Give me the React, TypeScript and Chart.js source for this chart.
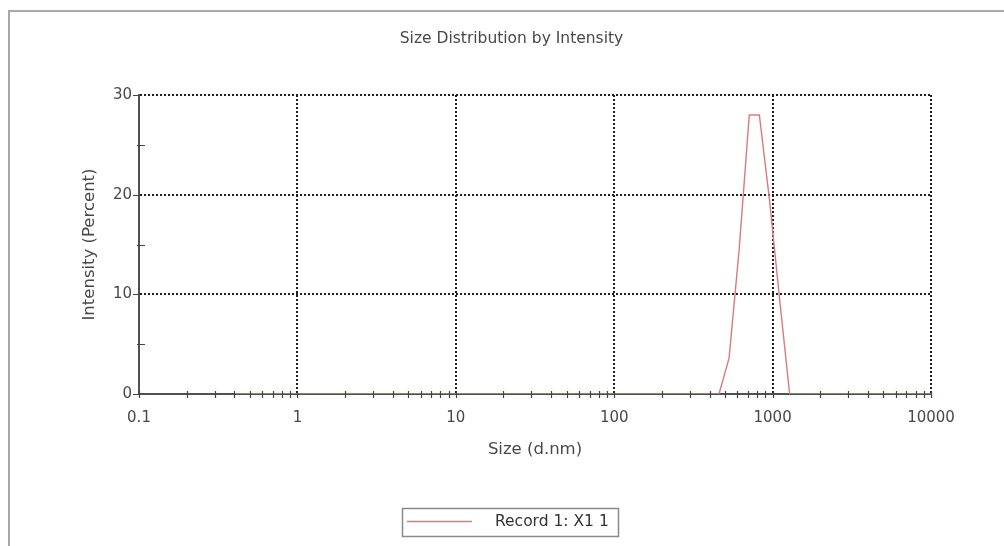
import React, { useEffect, useRef } from 'react';
import { Chart, registerables } from 'chart.js';

Chart.register(...registerables);

// ---- Data ----
const chartTitle = 'Size Distribution by Intensity';
const xAxisTitle = 'Size (d.nm)';
const yAxisTitle = 'Intensity (Percent)';
const seriesLabel = 'Record 1: X1 1';

// Size bins (d.nm)
const sizes = [
  0.4, 0.4632, 0.5365, 0.6213, 0.7195, 0.8332, 0.9649, 1.117, 1.294, 1.499,
  1.736, 2.01, 2.328, 2.696, 3.122, 3.615, 4.187, 4.849, 5.615, 6.503,
  7.531, 8.721, 10.1, 11.7, 13.54, 15.69, 18.17, 21.04, 24.36, 28.21,
  32.67, 37.84, 43.82, 50.75, 58.77, 68.06, 78.82, 91.28, 105.7, 122.4,
  141.8, 164.2, 190.1, 220.2, 255.0, 295.3, 342.0, 396.1, 458.7, 531.2,
  615.1, 712.4, 825.0, 955.4, 1106, 1281, 1484, 1718, 1990, 2305,
  2669, 3091, 3580, 4145, 4801, 5560, 6439, 7456, 8635, 10000,
];

// Intensity (%)
const intensities = [
  0, 0, 0, 0, 0, 0, 0, 0, 0, 0,
  0, 0, 0, 0, 0, 0, 0, 0, 0, 0,
  0, 0, 0, 0, 0, 0, 0, 0, 0, 0,
  0, 0, 0, 0, 0, 0, 0, 0, 0, 0,
  0, 0, 0, 0, 0, 0, 0, 0, 0, 3.6,
  14.5, 28.0, 28.0, 19.5, 9.6, 0, 0, 0, 0, 0,
  0, 0, 0, 0, 0, 0, 0, 0, 0, 0,
];

const xMajorTicks = [0.1, 1, 10, 100, 1000, 10000];
const xMajorLabels = ['0.1', '1', '10', '100', '1000', '10000'];
const xMinorMultipliers = [2, 3, 4, 5, 6, 7, 8, 9];
const yTicks = [0, 5, 10, 15, 20, 25, 30];
const yLabelledTicks = [0, 10, 20, 30];

const FONT = "'DejaVu Sans', 'Liberation Sans', sans-serif";
const TEXT = '#484848';
const GRID = '#1e1e1e';
const AXIS = '#505050';
const LINE = '#dc7882';

const isXMajor = (v: number) => xMajorTicks.some((m) => Math.abs(m - v) / m < 1e-6);

const decorPlugin = {
  id: 'decor',
  beforeDraw(chart: any) {
    const ctx = chart.ctx;
    ctx.save();
    ctx.strokeStyle = '#a8a8a8';
    ctx.lineWidth = 2;
    ctx.beginPath();
    ctx.moveTo(1004, 11);
    ctx.lineTo(9, 11);
    ctx.lineTo(9, 546);
    ctx.stroke();
    ctx.restore();
  },
  afterDraw(chart: any) {
    const ctx = chart.ctx;
    const xs = chart.scales.x;
    const ys = chart.scales.y;
    const area = chart.chartArea;
    ctx.save();
    // tick marks
    ctx.strokeStyle = '#444';
    ctx.lineWidth = 1.2;
    ctx.beginPath();
    xs.ticks.forEach((t: any) => {
      const px = Math.round(xs.getPixelForValue(t.value)) + 0.5;
      ctx.moveTo(px, area.bottom - 3);
      ctx.lineTo(px, area.bottom + 4);
    });
    ys.ticks.forEach((t: any) => {
      const py = Math.round(ys.getPixelForValue(t.value)) + 0.5;
      if (yLabelledTicks.includes(t.value)) {
        ctx.moveTo(area.left - 6, py);
        ctx.lineTo(area.left, py);
      } else {
        ctx.moveTo(area.left - 2, py);
        ctx.lineTo(area.left + 6, py);
      }
    });
    ctx.stroke();

    // title
    ctx.fillStyle = TEXT;
    ctx.font = `15.5px ${FONT}`;
    ctx.textAlign = 'center';
    ctx.textBaseline = 'middle';
    ctx.fillText(chartTitle, 511.5, 39);

    // legend
    const ds = chart.data.datasets[0];
    ctx.strokeStyle = '#8a8a8a';
    ctx.lineWidth = 1.5;
    ctx.strokeRect(402.5, 508.5, 216, 28);
    ctx.strokeStyle = ds.borderColor;
    ctx.lineWidth = 1.3;
    ctx.beginPath();
    ctx.moveTo(407, 521.5);
    ctx.lineTo(472, 521.5);
    ctx.stroke();
    ctx.fillStyle = '#333';
    ctx.font = `15.5px ${FONT}`;
    ctx.textAlign = 'left';
    ctx.fillText(ds.label, 495, 522);
    ctx.restore();
  },
};

export default function App() {
  const canvasRef = useRef<HTMLCanvasElement | null>(null);

  useEffect(() => {
    if (!canvasRef.current) return;
    const chart = new Chart(canvasRef.current, {
      type: 'line',
      data: {
        datasets: [
          {
            label: seriesLabel,
            data: sizes.map((s, i) => ({ x: s, y: intensities[i] })),
            borderColor: LINE,
            backgroundColor: LINE,
            borderWidth: 1.4,
            pointRadius: 0,
            tension: 0,
            fill: false,
          },
        ],
      },
      options: {
        responsive: false,
        animation: false,
        devicePixelRatio: 1,
        layout: { padding: { top: 95, left: 0, right: 73, bottom: 0 } },
        plugins: {
          legend: { display: false },
          title: { display: false },
          tooltip: { enabled: false },
        },
        scales: {
          x: {
            type: 'logarithmic',
            position: 'bottom',
            min: 0.1,
            max: 10000,
            z: 1,
            afterBuildTicks: (scale: any) => {
              const ticks: any[] = [];
              for (let i = 0; i < xMajorTicks.length; i++) {
                const d = xMajorTicks[i];
                ticks.push({ value: d, major: true });
                if (i < xMajorTicks.length - 1) {
                  xMinorMultipliers.forEach((m) => ticks.push({ value: d * m, major: false }));
                }
              }
              scale.ticks = ticks;
            },
            afterFit: (scale: any) => {
              scale.height = 152;
            },
            ticks: {
              autoSkip: false,
              maxRotation: 0,
              minRotation: 0,
              padding: 15,
              color: TEXT,
              font: { family: FONT, size: 15 },
              callback: (value: any) => {
                const v = Number(value);
                const idx = xMajorTicks.findIndex((m) => Math.abs(m - v) / m < 1e-6);
                return idx >= 0 ? xMajorLabels[idx] : '';
              },
            },
            grid: {
              drawTicks: false,
              lineWidth: 2,
              color: (c: any) =>
                c.tick && isXMajor(c.tick.value) && c.tick.value > 0.11 ? GRID : 'rgba(0,0,0,0)',
            },
            border: { display: true, color: AXIS, width: 2, dash: [2, 2] },
            title: {
              display: true,
              text: xAxisTitle,
              color: TEXT,
              font: { family: FONT, size: 16.5 },
              padding: { top: 0, bottom: 86 },
            },
          },
          y: {
            type: 'linear',
            position: 'left',
            min: 0,
            max: 30,
            afterBuildTicks: (scale: any) => {
              scale.ticks = yTicks.map((v) => ({ value: v }));
            },
            afterFit: (scale: any) => {
              scale.width = 139;
            },
            ticks: {
              autoSkip: false,
              padding: 7,
              color: TEXT,
              font: { family: FONT, size: 15 },
              callback: (value: any) => (yLabelledTicks.includes(Number(value)) ? String(value) : ''),
            },
            grid: {
              drawTicks: false,
              lineWidth: 2,
              color: (c: any) =>
                c.tick && yLabelledTicks.includes(c.tick.value) && c.tick.value !== 0 ? GRID : 'rgba(0,0,0,0)',
            },
            border: { display: true, color: AXIS, width: 2, dash: [2, 2] },
            title: {
              display: true,
              text: yAxisTitle,
              color: TEXT,
              font: { family: FONT, size: 16.5 },
              padding: { top: 80, bottom: 0 },
            },
          },
        },
      } as any,
      plugins: [decorPlugin],
    });
    return () => chart.destroy();
  }, []);

  return (
    <div style={{ position: 'fixed', left: 0, top: 0, width: 1004, height: 546, background: '#fff' }}>
      <canvas ref={canvasRef} width={1004} height={546} style={{ display: 'block' }} />
    </div>
  );
}
